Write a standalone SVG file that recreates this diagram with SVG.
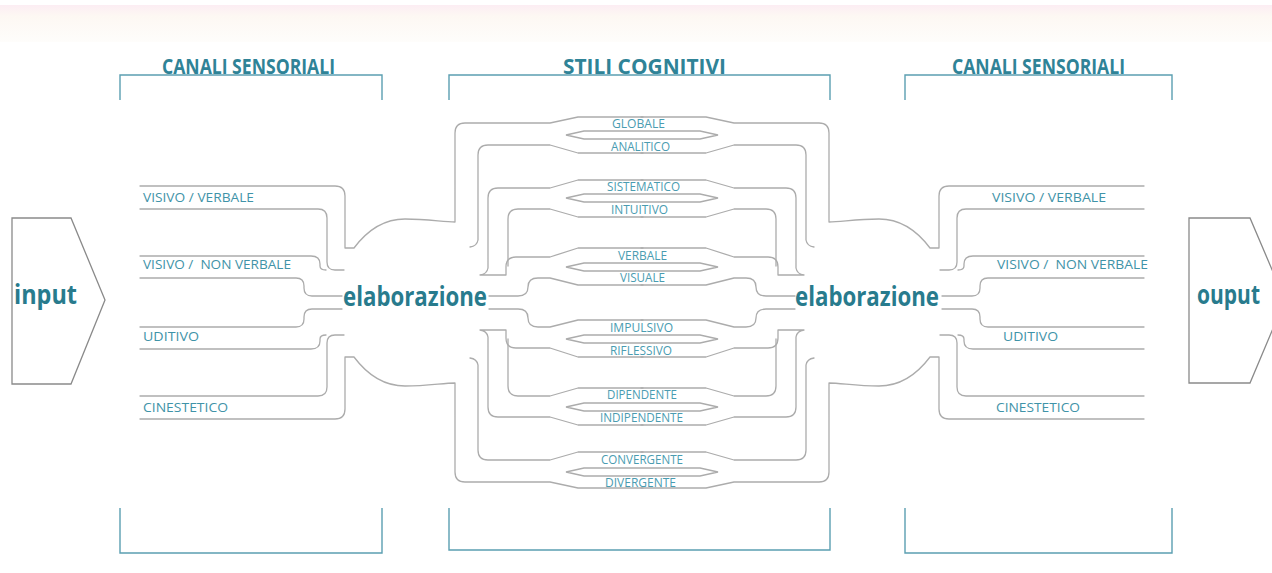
<svg xmlns="http://www.w3.org/2000/svg" xmlns:xlink="http://www.w3.org/1999/xlink" width="1272" height="573" viewBox="0 0 1272 573">
<style>
.w{fill:none;stroke:#acacac;stroke-width:1.3;stroke-linejoin:round;stroke-linecap:round}
.hex{fill:#fff;stroke:#acacac;stroke-width:1.3}
.br{fill:none;stroke:#5b9fb1;stroke-width:1.4}
.box{fill:#fff;stroke:#8a8a8a;stroke-width:1.3}
.title{font-family:"Open Sans","Liberation Sans",sans-serif;font-weight:700;font-size:21px;fill:#2f8397}
.big{font-family:"Open Sans","Liberation Sans",sans-serif;font-weight:700;font-size:26px;fill:#287b8d}
.ch{font-family:"Open Sans","Liberation Sans",sans-serif;font-size:13.5px;fill:#3f93a8}
.st{font-family:"Open Sans","Liberation Sans",sans-serif;font-size:12px;fill:#4a9cb1}
</style>
<defs>
<linearGradient id="band" x1="0" y1="0" x2="0" y2="1">
<stop offset="0" stop-color="#fcedf3"/>
<stop offset="0.3" stop-color="#fdf8f3"/>
<stop offset="1" stop-color="#fefdfb"/>
</linearGradient>
<g id="q">
<path class="w" d="M140,186 H335 Q345,186 345,196 V248 H354 C366,232 382,219 405,219 C428,219 443,222 455,222 V133 Q455,123 465,123 H550 L578,117 H643"/>
<path class="w" d="M470,247 Q477,246 478,240 V155 Q478,145 488,145 H550 L578,153 H643"/>
<path class="w" d="M643,180 H578 L550,188 H498 Q488,188 488,198 V268 Q487,274 480,275 H506 V267 Q506,257 516,257 H550 L578,248 H643"/>
<path class="w" d="M643,217 H578 L550,209 H518 Q508,209 508,219 V266"/>
<path class="w" d="M643,285 H578 L550,278 H538 Q528,278 528,287 Q528,296 518,296 H489"/>
<path class="w" d="M140,209 H318 Q327,209 327,218 V262 Q327,270 335,270 H344"/>
<path class="w" d="M140,256 H311 Q320,256 320,264 V266 Q320,270 326,270"/>
<path class="w" d="M140,278 H296 Q304,278 304,286 V288 Q304,296 312,296 H342"/>
</g>
</defs>
<rect x="0" y="0" width="1272" height="573" fill="#ffffff"/>
<rect x="0" y="5" width="1272" height="37" fill="url(#band)"/>

<g id="brackets">
<path class="br" d="M120,100 V75 H382 V100"/>
<path class="br" d="M449,100 V75 H830 V100"/>
<path class="br" d="M905,100 V75 H1172 V100"/>
<path class="br" d="M120,508 V553 H382 V508"/>
<path class="br" d="M449,508 V550 H830 V508"/>
<path class="br" d="M905,508 V553 H1172 V508"/>
</g>

<g id="titles">
<text class="title" x="162" y="74" textLength="173" lengthAdjust="spacingAndGlyphs">CANALI SENSORIALI</text>
<text class="title" x="563" y="74" textLength="163" lengthAdjust="spacingAndGlyphs">STILI COGNITIVI</text>
<text class="title" x="952" y="74" textLength="173" lengthAdjust="spacingAndGlyphs">CANALI SENSORIALI</text>
</g>

<g id="connectors">
<use xlink:href="#q" href="#q"/>
<use xlink:href="#q" href="#q" transform="matrix(-1 0 0 1 1284 0)"/>
<use xlink:href="#q" href="#q" transform="matrix(1 0 0 -1 0 605)"/>
<use xlink:href="#q" href="#q" transform="matrix(-1 0 0 -1 1284 605)"/>
<polygon class="hex" points="566,135 584,131 700,131 718,135 700,139 584,139"/>
<polygon class="hex" points="566,198 584,194 700,194 718,198 700,202 584,202"/>
<polygon class="hex" points="566,267 584,263 700,263 718,267 700,271 584,271"/>
<polygon class="hex" points="566,339 584,335 700,335 718,339 700,343 584,343"/>
<polygon class="hex" points="566,407 584,403 700,403 718,407 700,411 584,411"/>
<polygon class="hex" points="566,472 584,468 700,468 718,472 700,476 584,476"/>
</g>

<g id="input">
<polygon class="box" points="12,218 71,218 105,300 71,384 12,384"/>
<text class="big" x="14" y="304" textLength="63" lengthAdjust="spacingAndGlyphs">input</text>
</g>
<g id="output">
<polygon class="box" points="1189,218 1250,218 1285,300 1250,383 1189,383"/>
<text class="big" x="1197" y="304" textLength="63" lengthAdjust="spacingAndGlyphs">ouput</text>
</g>
<g id="elab-left">
<text class="big" x="343" y="306" textLength="144" lengthAdjust="spacingAndGlyphs">elaborazione</text>
</g>
<g id="elab-right">
<text class="big" x="795" y="306" textLength="144" lengthAdjust="spacingAndGlyphs">elaborazione</text>
</g>

<g id="channels-left">
<text class="ch" x="143" y="202" textLength="111" lengthAdjust="spacingAndGlyphs">VISIVO / VERBALE</text>
<text class="ch" x="143" y="269" textLength="148" lengthAdjust="spacingAndGlyphs" xml:space="preserve">VISIVO /  NON VERBALE</text>
<text class="ch" x="143" y="341" textLength="56" lengthAdjust="spacingAndGlyphs">UDITIVO</text>
<text class="ch" x="143" y="412" textLength="85" lengthAdjust="spacingAndGlyphs">CINESTETICO</text>
</g>
<g id="channels-right">
<text class="ch" x="992" y="202" textLength="114" lengthAdjust="spacingAndGlyphs">VISIVO / VERBALE</text>
<text class="ch" x="997" y="269" textLength="151" lengthAdjust="spacingAndGlyphs" xml:space="preserve">VISIVO /  NON VERBALE</text>
<text class="ch" x="1003" y="341" textLength="55" lengthAdjust="spacingAndGlyphs">UDITIVO</text>
<text class="ch" x="996" y="412" textLength="84" lengthAdjust="spacingAndGlyphs">CINESTETICO</text>
</g>

<g id="styles">
<text class="st" x="612" y="128" textLength="53" lengthAdjust="spacingAndGlyphs">GLOBALE</text>
<text class="st" x="611" y="151" textLength="59" lengthAdjust="spacingAndGlyphs">ANALITICO</text>
<text class="st" x="607" y="191" textLength="73" lengthAdjust="spacingAndGlyphs">SISTEMATICO</text>
<text class="st" x="611" y="214" textLength="57" lengthAdjust="spacingAndGlyphs">INTUITIVO</text>
<text class="st" x="618" y="260" textLength="49" lengthAdjust="spacingAndGlyphs">VERBALE</text>
<text class="st" x="620" y="282" textLength="45" lengthAdjust="spacingAndGlyphs">VISUALE</text>
<text class="st" x="610" y="332" textLength="63" lengthAdjust="spacingAndGlyphs">IMPULSIVO</text>
<text class="st" x="610" y="355" textLength="62" lengthAdjust="spacingAndGlyphs">RIFLESSIVO</text>
<text class="st" x="607" y="399" textLength="70" lengthAdjust="spacingAndGlyphs">DIPENDENTE</text>
<text class="st" x="600" y="422" textLength="83" lengthAdjust="spacingAndGlyphs">INDIPENDENTE</text>
<text class="st" x="601" y="464" textLength="82" lengthAdjust="spacingAndGlyphs">CONVERGENTE</text>
<text class="st" x="605" y="487" textLength="71" lengthAdjust="spacingAndGlyphs">DIVERGENTE</text>
</g>
</svg>
